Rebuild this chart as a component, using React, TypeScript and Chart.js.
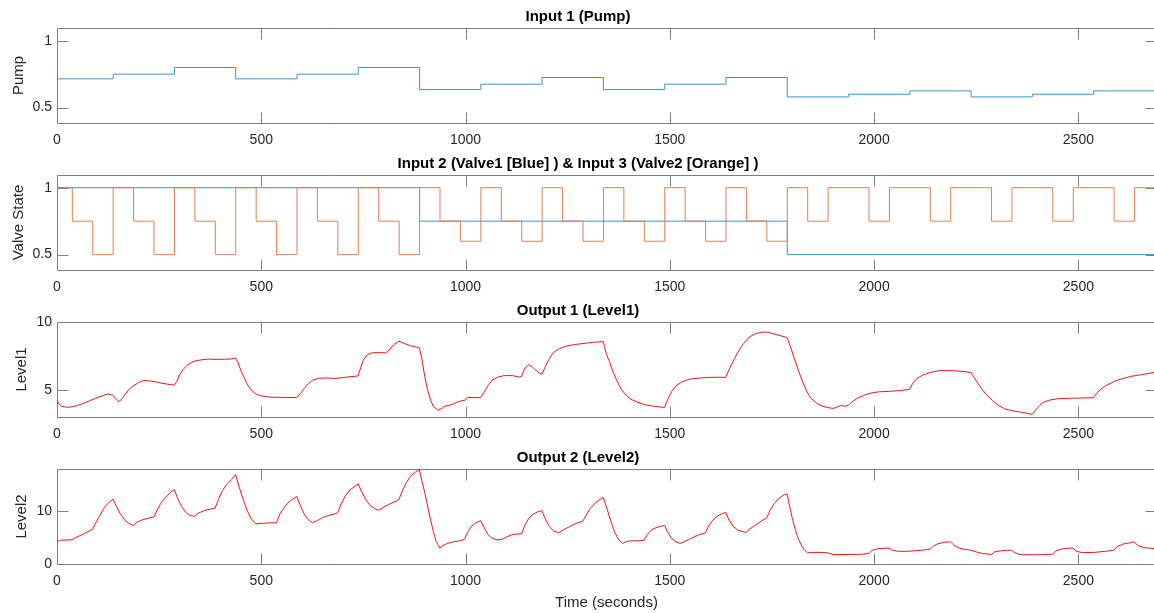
import React, { useEffect, useRef } from "react";
import { Chart, registerables } from "chart.js";

Chart.register(...registerables);

type Pt = [number, number];

// ---- shared time axis ----
const timeTicks = [0, 500, 1000, 1500, 2000, 2500];
const timeEnd = 2690;

// ---- Input 1: pump command (value holds from each start time) ----
const pumpSteps: Pt[] = [
  [0, 0.715], [137.5, 0.75], [287.5, 0.8], [437.5, 0.715], [587.5, 0.75], [737.5, 0.8],
  [887.5, 0.635], [1037.5, 0.675], [1187.5, 0.725], [1337.5, 0.635], [1487.5, 0.675], [1637.5, 0.725],
  [1787.5, 0.58], [1937.5, 0.6], [2087.5, 0.625], [2237.5, 0.58], [2387.5, 0.6], [2537.5, 0.625],
];
const pumpTicks = [0.5, 1];

// ---- Input 2: valve 1 ----
const valve1Steps: Pt[] = [
  [0, 1], [887.5, 0.75], [1787.5, 0.5],
];

// ---- Input 3: valve 2 ----
const valve2Steps: Pt[] = [
  [0, 1], [37.5, 0.75], [87.5, 0.5], [137.5, 1], [187.5, 0.75], [237.5, 0.5],
  [287.5, 1], [337.5, 0.75], [387.5, 0.5], [437.5, 1], [487.5, 0.75], [537.5, 0.5],
  [587.5, 1], [637.5, 0.75], [687.5, 0.5], [737.5, 1], [787.5, 0.75], [837.5, 0.5],
  [887.5, 1], [937.5, 0.75], [987.5, 0.6], [1037.5, 1], [1087.5, 0.75], [1137.5, 0.6],
  [1187.5, 1], [1237.5, 0.75], [1287.5, 0.6], [1337.5, 1], [1387.5, 0.75], [1437.5, 0.6],
  [1487.5, 1], [1537.5, 0.75], [1587.5, 0.6], [1637.5, 1], [1687.5, 0.75], [1737.5, 0.6],
  [1787.5, 1], [1837.5, 0.75], [1887.5, 1], [1987.5, 0.75], [2037.5, 1], [2137.5, 0.75],
  [2187.5, 1], [2287.5, 0.75], [2337.5, 1], [2437.5, 0.75], [2487.5, 1], [2587.5, 0.75],
  [2637.5, 1],
];
const valveTicks = [0.5, 1];

// ---- Output 1: tank level 1 ----
const level1Points: Pt[] = [
  [0, 4.25], [5, 3.95], [12, 3.78], [25, 3.72], [37, 3.74], [50, 3.85], [65, 4.0], [80, 4.2],
  [95, 4.38], [110, 4.55], [125, 4.7], [137, 4.6], [145, 4.3], [150, 4.15], [155, 4.2], [165, 4.6],
  [175, 5.0], [187, 5.3], [200, 5.55], [212, 5.7], [225, 5.66], [240, 5.6], [255, 5.5], [270, 5.42],
  [287, 5.35], [293, 5.6], [300, 6.1], [310, 6.55], [320, 6.85], [335, 7.1], [350, 7.2], [370, 7.27],
  [390, 7.24], [410, 7.26], [425, 7.27], [437, 7.35], [443, 7.0], [450, 6.45], [458, 5.9], [465, 5.45],
  [475, 5.0], [487, 4.7], [500, 4.55], [520, 4.47], [540, 4.45], [560, 4.44], [587, 4.43], [595, 4.7],
  [605, 5.1], [615, 5.45], [625, 5.7], [640, 5.85], [660, 5.88], [680, 5.84], [700, 5.9], [720, 5.98],
  [737, 6.02], [742, 6.5], [750, 7.2], [760, 7.6], [770, 7.72], [787, 7.75], [805, 7.72], [815, 8.0],
  [825, 8.35], [837, 8.58], [850, 8.42], [865, 8.25], [880, 8.15], [887, 8.1], [893, 7.3], [900, 6.0],
  [907, 5.0], [915, 4.2], [922, 3.75], [932, 3.5], [940, 3.6], [950, 3.8], [965, 3.9], [980, 4.1],
  [990, 4.2], [1000, 4.25], [1005, 4.45], [1020, 4.43], [1037, 4.42], [1045, 4.8], [1055, 5.3],
  [1065, 5.7], [1080, 5.95], [1095, 6.05], [1115, 6.05], [1130, 5.95], [1137, 5.98], [1145, 6.6],
  [1155, 6.85], [1165, 6.65], [1175, 6.35], [1187, 6.15], [1195, 6.7], [1205, 7.3], [1215, 7.75],
  [1230, 8.05], [1250, 8.25], [1270, 8.35], [1290, 8.42], [1310, 8.5], [1337, 8.55], [1340, 8.2],
  [1345, 7.6], [1352, 7.1], [1360, 6.4], [1370, 5.7], [1380, 5.1], [1390, 4.7], [1405, 4.3],
  [1420, 4.1], [1440, 3.9], [1460, 3.8], [1487, 3.7], [1495, 4.3], [1505, 4.9], [1515, 5.3],
  [1530, 5.6], [1550, 5.8], [1575, 5.88], [1600, 5.92], [1620, 5.93], [1637, 5.92], [1645, 6.5],
  [1655, 7.1], [1665, 7.7], [1680, 8.4], [1695, 8.9], [1710, 9.15], [1725, 9.25], [1740, 9.25],
  [1755, 9.12], [1770, 9.0], [1787, 8.85], [1795, 8.2], [1805, 7.3], [1815, 6.4], [1825, 5.6],
  [1835, 4.9], [1845, 4.4], [1860, 4.0], [1875, 3.78], [1890, 3.68], [1900, 3.63], [1910, 3.75],
  [1920, 3.85], [1928, 3.8], [1937, 3.85], [1945, 4.1], [1960, 4.4], [1975, 4.6], [1990, 4.75],
  [2010, 4.85], [2040, 4.9], [2065, 4.95], [2087, 5.05], [2095, 5.5], [2105, 5.85], [2120, 6.1],
  [2140, 6.3], [2160, 6.42], [2180, 6.42], [2200, 6.4], [2220, 6.35], [2237, 6.28], [2245, 5.9],
  [2255, 5.45], [2265, 5.0], [2275, 4.65], [2290, 4.2], [2305, 3.85], [2320, 3.6], [2340, 3.45],
  [2360, 3.35], [2375, 3.27], [2387, 3.2], [2395, 3.5], [2405, 3.85], [2415, 4.1], [2430, 4.25],
  [2450, 4.35], [2480, 4.38], [2510, 4.4], [2537, 4.42], [2545, 4.75], [2555, 5.05], [2570, 5.35],
  [2590, 5.65], [2610, 5.85], [2630, 6.0], [2650, 6.1], [2670, 6.2], [2690, 6.3],
];
const level1Ticks = [5, 10];

// ---- Output 2: tank level 2 ----
const level2Points: Pt[] = [
  [0, 4.2], [8, 4.5], [20, 4.55], [37, 4.6], [45, 5.0], [60, 5.5], [75, 6.1], [87, 6.6],
  [95, 7.8], [105, 9.2], [115, 10.6], [125, 11.5], [137, 12.3], [145, 11.0], [155, 9.5], [165, 8.4],
  [175, 7.7], [187, 7.3], [195, 7.9], [210, 8.4], [225, 8.7], [237, 8.9], [245, 10.2], [255, 11.6],
  [265, 12.6], [277, 13.5], [287, 14.1], [295, 12.5], [305, 10.9], [315, 9.8], [325, 9.2], [337, 9.05],
  [345, 9.6], [360, 10.1], [375, 10.4], [387, 10.6], [395, 12.2], [405, 13.9], [415, 15.0], [427, 16.0],
  [437, 16.9], [445, 14.8], [455, 12.4], [465, 10.2], [475, 8.6], [487, 7.6], [500, 7.7], [520, 7.8],
  [537, 7.8], [545, 9.4], [555, 10.6], [565, 11.6], [577, 12.3], [587, 12.8], [595, 11.2], [605, 9.5],
  [615, 8.4], [625, 7.8], [637, 8.2], [650, 8.8], [665, 9.2], [680, 9.5], [687, 9.7], [695, 11.3],
  [705, 12.8], [715, 13.9], [727, 14.6], [737, 15.2], [745, 13.8], [755, 12.3], [765, 11.2], [777, 10.5],
  [787, 10.2], [800, 10.8], [815, 11.4], [830, 11.9], [837, 12.2], [845, 13.8], [855, 15.4], [865, 16.6],
  [877, 17.4], [887, 17.9], [893, 15.8], [900, 13.6], [907, 11.0], [914, 8.5], [921, 6.2], [928, 4.3],
  [937, 3.0], [945, 3.5], [955, 3.9], [970, 4.2], [985, 4.4], [998, 4.7], [1005, 6.0], [1015, 7.2],
  [1025, 7.8], [1037, 8.2], [1045, 7.0], [1055, 5.6], [1065, 4.9], [1078, 4.55], [1090, 4.7], [1100, 5.1],
  [1115, 5.6], [1130, 5.7], [1137, 5.7], [1145, 7.3], [1155, 8.7], [1165, 9.4], [1177, 9.9], [1187, 10.1],
  [1195, 8.6], [1205, 7.1], [1215, 6.3], [1228, 5.9], [1240, 6.5], [1255, 7.1], [1270, 7.7], [1287, 8.1],
  [1295, 9.2], [1305, 10.5], [1315, 11.4], [1327, 12.1], [1337, 12.6], [1345, 10.8], [1355, 8.3],
  [1365, 6.0], [1375, 4.6], [1385, 3.9], [1395, 4.3], [1410, 4.4], [1425, 4.4], [1437, 4.5], [1445, 5.6],
  [1455, 6.5], [1470, 7.0], [1487, 7.3], [1495, 6.0], [1505, 4.8], [1515, 4.2], [1525, 3.9], [1535, 4.2],
  [1550, 4.8], [1570, 5.5], [1587, 5.9], [1595, 7.2], [1605, 8.3], [1617, 9.1], [1627, 9.5], [1637, 9.8],
  [1645, 8.3], [1655, 7.1], [1667, 6.4], [1680, 6.1], [1687, 6.0], [1695, 6.6], [1710, 7.4], [1725, 8.2],
  [1737, 8.7], [1745, 10.1], [1755, 11.4], [1765, 12.3], [1777, 13.0], [1787, 13.3], [1793, 11.0],
  [1800, 8.6], [1808, 6.3], [1815, 4.7], [1823, 3.4], [1830, 2.6], [1837, 2.1], [1850, 2.2], [1870, 2.2],
  [1887, 2.1], [1900, 1.8], [1920, 1.8], [1944, 1.8], [1970, 1.85], [1987, 2.0], [1995, 2.6], [2010, 2.9],
  [2030, 3.0], [2037, 3.0], [2045, 2.6], [2060, 2.4], [2080, 2.4], [2100, 2.5], [2120, 2.65], [2137, 2.8],
  [2145, 3.4], [2155, 3.8], [2170, 4.1], [2187, 4.2], [2195, 3.6], [2205, 3.1], [2220, 2.8], [2237, 2.6],
  [2250, 2.3], [2265, 2.0], [2287, 1.8], [2295, 2.3], [2310, 2.5], [2325, 2.6], [2337, 2.6], [2345, 2.1],
  [2360, 1.75], [2390, 1.75], [2420, 1.8], [2437, 1.85], [2445, 2.5], [2460, 2.85], [2475, 3.0],
  [2487, 3.0], [2495, 2.4], [2510, 2.15], [2540, 2.2], [2565, 2.4], [2587, 2.6], [2595, 3.3], [2610, 3.8],
  [2625, 4.0], [2637, 4.2], [2645, 3.5], [2660, 3.1], [2690, 2.9],
];
const level2Ticks = [0, 10];

// ---- styling / layout ----
const FONT = "'Liberation Sans', Arial, Helvetica, sans-serif";
const AXIS_COLOR = "#7f7f7f";
const TEXT_COLOR = "#262626";
const BLUE = "#3b94c9";
const ORANGE = "#e07f55";
const RED = "#f01414";
const TICK_LEN = 11;
const CANVAS_W = 1180;
const PLOT_LEFT = 57;
const PLOT_RIGHT = 1156;
const TOP_SPACE = 28;
const PLOT_H = 95;

const toXY = (pts: Pt[]) => pts.map(([x, y]) => ({ x, y }));
// A stair trace holds its last level until the end of the time axis
const stairXY = (steps: Pt[]) =>
  toXY([...steps, [timeEnd, steps[steps.length - 1][1]]]);

// MATLAB-style box around the axes with inward-pointing ticks on all four sides
const boxTicks = {
  id: "boxTicks",
  beforeDatasetsDraw(chart: any) {
    const { ctx, chartArea: a, scales } = chart;
    const xs = scales.x;
    const ys = scales.y;
    const L = Math.round(a.left) + 0.5;
    const R = Math.round(a.right) + 0.5;
    const T = Math.round(a.top) + 0.5;
    const B = Math.round(a.bottom) + 0.5;
    ctx.save();
    ctx.strokeStyle = AXIS_COLOR;
    ctx.lineWidth = 1;
    ctx.beginPath();
    ctx.rect(L, T, R - L, B - T);
    for (const t of xs.ticks) {
      const px = Math.round(xs.getPixelForValue(t.value)) + 0.5;
      ctx.moveTo(px, B);
      ctx.lineTo(px, B - TICK_LEN);
      ctx.moveTo(px, T);
      ctx.lineTo(px, T + TICK_LEN);
    }
    for (const t of ys.ticks) {
      const py = Math.round(ys.getPixelForValue(t.value)) + 0.5;
      ctx.moveTo(L, py);
      ctx.lineTo(L + TICK_LEN, py);
      ctx.moveTo(R, py);
      ctx.lineTo(R - TICK_LEN, py);
    }
    ctx.stroke();
    ctx.restore();
  },
};

type Panel = {
  title: string;
  yLabel: string;
  yMin: number;
  yMax: number;
  yTicks: number[];
  plotTop: number;
  bottomSpace: number;
  yLabelPad: number;
  xLabel?: string;
  datasets: any[];
};

const line = (data: any[], color: string, stepped: boolean, order: number) => ({
  data,
  borderColor: color,
  borderWidth: 1,
  pointRadius: 0,
  stepped: stepped ? "before" : false,
  tension: 0,
  fill: false,
  order,
});

const panels: Panel[] = [
  {
    title: "Input 1 (Pump)",
    yLabel: "Pump",
    yMin: 0.385,
    yMax: 1.095,
    yTicks: pumpTicks,
    plotTop: 28,
    bottomSpace: 30,
    yLabelPad: 10,
    datasets: [line(stairXY(pumpSteps), BLUE, true, 0)],
  },
  {
    title: "Input 2 (Valve1 [Blue] ) & Input 3 (Valve2 [Orange] )",
    yLabel: "Valve State",
    yMin: 0.385,
    yMax: 1.095,
    yTicks: valveTicks,
    plotTop: 175,
    bottomSpace: 30,
    yLabelPad: 10,
    datasets: [
      line(stairXY(valve1Steps), BLUE, true, 1),
      line(stairXY(valve2Steps), ORANGE, true, 0),
    ],
  },
  {
    title: "Output 1 (Level1)",
    yLabel: "Level1",
    yMin: 3,
    yMax: 10,
    yTicks: level1Ticks,
    plotTop: 322,
    bottomSpace: 30,
    yLabelPad: 13,
    datasets: [line(toXY(level1Points), RED, false, 0)],
  },
  {
    title: "Output 2 (Level2)",
    yLabel: "Level2",
    yMin: 0,
    yMax: 18,
    yTicks: level2Ticks,
    plotTop: 469,
    bottomSpace: 49,
    yLabelPad: 13,
    xLabel: "Time (seconds)",
    datasets: [line(toXY(level2Points), RED, false, 0)],
  },
];

function makeConfig(p: Panel): any {
  return {
    type: "line",
    data: { datasets: p.datasets },
    options: {
      animation: false,
      responsive: false,
      devicePixelRatio: 1,
      layout: { padding: { left: 0, right: CANVAS_W - PLOT_RIGHT, top: 0, bottom: 0 } },
      plugins: {
        legend: { display: false },
        tooltip: { enabled: false },
        title: {
          display: true,
          text: p.title,
          color: "#000",
          font: { family: FONT, size: 15, weight: "bold" },
          padding: { top: TOP_SPACE - 18 - 2, bottom: 2 },
        },
      },
      scales: {
        x: {
          type: "linear",
          min: 0,
          max: timeEnd,
          afterBuildTicks: (s: any) => {
            s.ticks = timeTicks.map((value) => ({ value }));
          },
          afterFit: (s: any) => {
            s.height = p.bottomSpace;
          },
          grid: { display: false, drawTicks: false },
          border: { display: false },
          ticks: {
            autoSkip: false,
            maxRotation: 0,
            padding: 9,
            color: TEXT_COLOR,
            font: { family: FONT, size: 14 },
            callback: (v: number) => String(v),
          },
          title: p.xLabel
            ? {
                display: true,
                text: p.xLabel,
                color: TEXT_COLOR,
                font: { family: FONT, size: 15 },
                padding: { top: 0, bottom: 1 },
              }
            : { display: false },
        },
        y: {
          type: "linear",
          min: p.yMin,
          max: p.yMax,
          afterBuildTicks: (s: any) => {
            s.ticks = p.yTicks.map((value) => ({ value }));
          },
          afterFit: (s: any) => {
            s.width = PLOT_LEFT;
          },
          grid: { display: false, drawTicks: false },
          border: { display: false },
          ticks: {
            autoSkip: false,
            padding: 5,
            color: TEXT_COLOR,
            font: { family: FONT, size: 14 },
            callback: (v: number) => String(v),
          },
          title: {
            display: true,
            text: p.yLabel,
            color: TEXT_COLOR,
            font: { family: FONT, size: 15 },
            padding: { top: p.yLabelPad, bottom: 0 },
          },
        },
      },
    },
    plugins: [boxTicks],
  };
}

export default function App() {
  const refs = useRef<(HTMLCanvasElement | null)[]>([]);

  useEffect(() => {
    const charts = panels.map((p, i) => new Chart(refs.current[i] as HTMLCanvasElement, makeConfig(p)));
    return () => charts.forEach((c) => c.destroy());
  }, []);

  return (
    <div
      style={{
        position: "fixed",
        left: 0,
        top: 0,
        width: "100vw",
        height: "100vh",
        overflow: "hidden",
        background: "#fff",
      }}
    >
      {panels.map((p, i) => {
        const h = TOP_SPACE + PLOT_H + p.bottomSpace;
        return (
          <canvas
            key={p.title}
            ref={(el) => {
              refs.current[i] = el;
            }}
            width={CANVAS_W}
            height={h}
            style={{
              position: "absolute",
              left: 0,
              top: p.plotTop - TOP_SPACE,
              width: CANVAS_W,
              height: h,
            }}
          />
        );
      })}
    </div>
  );
}
